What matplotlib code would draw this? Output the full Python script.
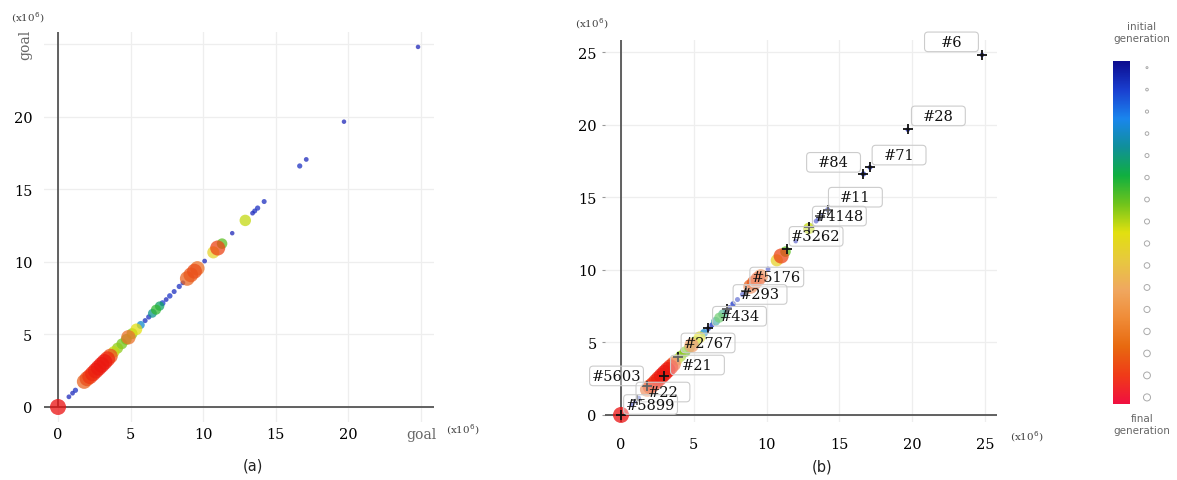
import numpy as np
import matplotlib
matplotlib.use('Agg')
import matplotlib.pyplot as plt
from matplotlib.colors import LinearSegmentedColormap
from matplotlib.patches import FancyBboxPatch

# ---------------- data (values in x10^6) ----------------
pt_x = [24.8, 19.7, 17.1, 16.65, 14.2, 13.75, 13.55, 13.4, 12.0, 12.9, 11.3, 11.0, 10.7, 10.1,
        9.6, 9.4, 9.15, 8.9, 8.6, 8.35, 8.0, 7.7, 7.45, 7.2, 7.0, 6.75, 6.5, 6.25, 6.0, 5.7,
        5.4, 5.1, 4.85, 4.7, 4.4, 4.1, 3.85, 3.6, 3.4, 3.2, 3.0, 2.8, 2.6, 2.4, 2.2, 2.0, 1.8,
        1.2, 1.0, 0.75, 0.0]
pt_y = [24.8, 19.65, 17.05, 16.6, 14.15, 13.7, 13.5, 13.35, 11.97, 12.85, 11.25, 10.95, 10.65, 10.05,
        9.55, 9.35, 9.1, 8.85, 8.55, 8.3, 7.95, 7.65, 7.4, 7.15, 6.95, 6.7, 6.45, 6.2, 5.95, 5.65,
        5.35, 5.05, 4.8, 4.65, 4.35, 4.05, 3.8, 3.5, 3.3, 3.1, 2.9, 2.7, 2.5, 2.3, 2.1, 1.95, 1.75,
        1.15, 0.95, 0.7, 0.0]
pt_gen = [0.02, 0.02, 0.03, 0.05, 0.04, 0.05, 0.04, 0.03, 0.02, 0.48, 0.40, 0.88, 0.55, 0.03,
          0.80, 0.86, 0.84, 0.82, 0.03, 0.05, 0.04, 0.06, 0.03, 0.08, 0.30, 0.36, 0.26, 0.05, 0.04, 0.20,
          0.50, 0.44, 0.80, 0.42, 0.42, 0.44, 0.48, 0.86, 0.93, 0.97, 0.98, 0.97, 0.95, 0.93, 0.90, 0.86, 0.82,
          0.05, 0.03, 0.03, 1.00]

ticks = [0, 5, 10, 15, 20, 25]
tick_labels_a = ['0', '5', '10', '15', '20', 'goal']
tick_labels_b = ['0', '5', '10', '15', '20', '25']

mark_x = [24.8, 19.7, 17.1, 16.6, 14.2, 13.7, 12.9, 11.4, 8.6, 7.3, 6.0, 3.9, 2.95, 1.8, 1.1, 0.0]
mark_y = [24.8, 19.7, 17.05, 16.6, 14.15, 13.7, 12.95, 11.4, 8.55, 7.3, 6.0, 4.0, 2.7, 2.0, 1.0, 0.0]
label_text = ['#6', '#28', '#71', '#84', '#11', '#4148', '#3262', '#5176', '#293', '#434',
              '#2767', '#21', '#5603', '#22', '#5899']
label_x = [22.7, 21.8, 19.1, 14.6, 16.1, 15.0, 13.4, 10.7, 9.55, 8.14, 5.98, 5.25, -0.31, 2.88, 2.03]
label_y = [25.7, 20.6, 17.9, 17.4, 15.0, 13.7, 12.3, 9.5, 8.3, 6.8, 4.96, 3.44, 2.69, 1.58, 0.72]

point_colors = ['#2020b0', '#1a3fd0', '#1a86ee', '#10909a', '#10b040', '#70c41c', '#e2e010',
                '#e8c840', '#f0a860', '#f08c38', '#e86020', '#ee3010', '#ea1010']
bar_colors = ['#0d0d8f', '#1a3fd0', '#1a86ee', '#10909a', '#10b040', '#70c41c', '#e2e010',
              '#e8c840', '#f0a860', '#f08c38', '#e86a10', '#f03c18', '#f01040']
cmap_pts = LinearSegmentedColormap.from_list('gen_pts', point_colors)
cmap_bar = LinearSegmentedColormap.from_list('gen_bar', bar_colors)

W, H = 1177, 481
fig = plt.figure(figsize=(W / 100, H / 100), dpi=100)


def px_axes(l, r, t, b):
    return fig.add_axes([l / W, 1 - b / H, (r - l) / W, (b - t) / H])


order = np.argsort(pt_gen)
xs = np.array(pt_x)[order]
ys = np.array(pt_y)[order]
gs = np.array(pt_gen)[order]
sizes = 8 + 125 * gs

serif = 'DejaVu Serif'
axis_col = '#555555'
grid_col = '#eeeeee'


def style_axes(ax, xlim, ylim):
    ax.set_xlim(*xlim)
    ax.set_ylim(*ylim)
    for s in ax.spines.values():
        s.set_visible(False)
    ax.set_xticks(ticks)
    ax.set_yticks(ticks)
    ax.grid(True, color=grid_col, lw=0.9, zorder=0)
    ax.set_axisbelow(True)


# ---------------- panel (a) ----------------
axa = px_axes(43.5, 434, 33.4, 422.5)
style_axes(axa, (-1.0, 25.9), (-1.0, 25.8))
axa.axhline(0, color=axis_col, lw=1.3, zorder=1)
axa.plot([0, 0], [0, 25.8], color=axis_col, lw=1.3, zorder=1, solid_capstyle='butt')
axa.scatter(xs, ys, s=sizes, c=gs, cmap=cmap_pts, vmin=0, vmax=1, alpha=0.75,
            edgecolors='none', zorder=3, clip_on=False)
axa.set_xticklabels(tick_labels_a, fontfamily=serif, fontsize=10.5)
axa.set_yticklabels(tick_labels_a, fontfamily=serif, fontsize=10.5)
axa.tick_params(axis='x', length=0, pad=4)
axa.tick_params(axis='y', length=0, pad=8)
lx = axa.get_xticklabels()[-1]
lx.set_color('#666666'); lx.set_fontsize(10)
ly = axa.get_yticklabels()[-1]
ly.set_color('#666666'); ly.set_fontsize(10); ly.set_rotation(90); ly.set_va('center')

fig.text(28 / W, 1 - 18 / H, '(x10$^6$)', fontfamily=serif, fontsize=7.5, color='#444444',
         ha='center', va='center')
fig.text(446 / W, 1 - 430 / H, '(x10$^6$)', fontfamily=serif, fontsize=7.5, color='#444444',
         ha='left', va='center')
fig.text(253 / W, 1 - 466 / H, '(a)', fontsize=10.5, ha='center', va='center', color='#222222')

# ---------------- panel (b) ----------------
axb = px_axes(605, 996.6, 41.4, 422.5)
style_axes(axb, (-1.1, 25.8), (-0.45, 25.8))
axb.axhline(0, color=axis_col, lw=1.3, zorder=1)
axb.axvline(0, color=axis_col, lw=1.3, zorder=1)
axb.scatter(xs, ys, s=sizes, c=gs, cmap=cmap_pts, vmin=0, vmax=1, alpha=0.75,
            edgecolors='none', zorder=3, clip_on=False)
axb.plot(mark_x, mark_y, ls='none', marker='+', color='#111111', ms=7, mew=1.3, zorder=4)
axb.set_xticklabels(tick_labels_b, fontfamily=serif, fontsize=10.5)
axb.set_yticklabels(tick_labels_b, fontfamily=serif, fontsize=10.5)
axb.tick_params(axis='x', length=0, pad=11)
axb.tick_params(axis='y', length=2, width=0.8, color='#999999', pad=4)

bw, bh = 3.7, 1.35
for t, cx, cy in zip(label_text, label_x, label_y):
    box = FancyBboxPatch((cx - bw / 2, cy - bh / 2), bw, bh,
                         boxstyle='round,pad=0,rounding_size=0.25',
                         ec='#cccccc', fc=(1, 1, 1, 0.35), lw=0.8, zorder=5, clip_on=False)
    axb.add_patch(box)
    axb.text(cx, cy, t, fontfamily=serif, fontsize=10.5, color='#111111',
             ha='center', va='center', zorder=6, clip_on=False)

fig.text(592 / W, 1 - 24 / H, '(x10$^6$)', fontfamily=serif, fontsize=7.5, color='#444444',
         ha='center', va='center')
fig.text(1010 / W, 1 - 437 / H, '(x10$^6$)', fontfamily=serif, fontsize=7.5, color='#444444',
         ha='left', va='center')
fig.text(822 / W, 1 - 467 / H, '(b)', fontsize=10.5, ha='center', va='center', color='#222222')

# ---------------- colour bar & size legend ----------------
axc = px_axes(1113, 1130, 62, 405)
axc.imshow(np.linspace(0, 1, 256)[:, None], aspect='auto', cmap=cmap_bar)
axc.axis('off')

legend_levels = np.linspace(0, 1, 16)
axl = px_axes(1138, 1156, 62, 405)
axl.set_xlim(0, 1)
axl.set_ylim(1.02, -0.02)
axl.scatter(np.full(16, 0.5), legend_levels, s=2 + 24 * legend_levels,
            facecolors='white', edgecolors='#aaaaaa', linewidths=0.7)
axl.axis('off')

fig.text(1142 / W, 1 - 33 / H, 'initial\ngeneration', fontsize=7.5, color='#666666',
         ha='center', va='center', linespacing=1.15)
fig.text(1142 / W, 1 - 425 / H, 'final\ngeneration', fontsize=7.5, color='#666666',
         ha='center', va='center', linespacing=1.15)

fig.savefig('out.png', dpi=100)
